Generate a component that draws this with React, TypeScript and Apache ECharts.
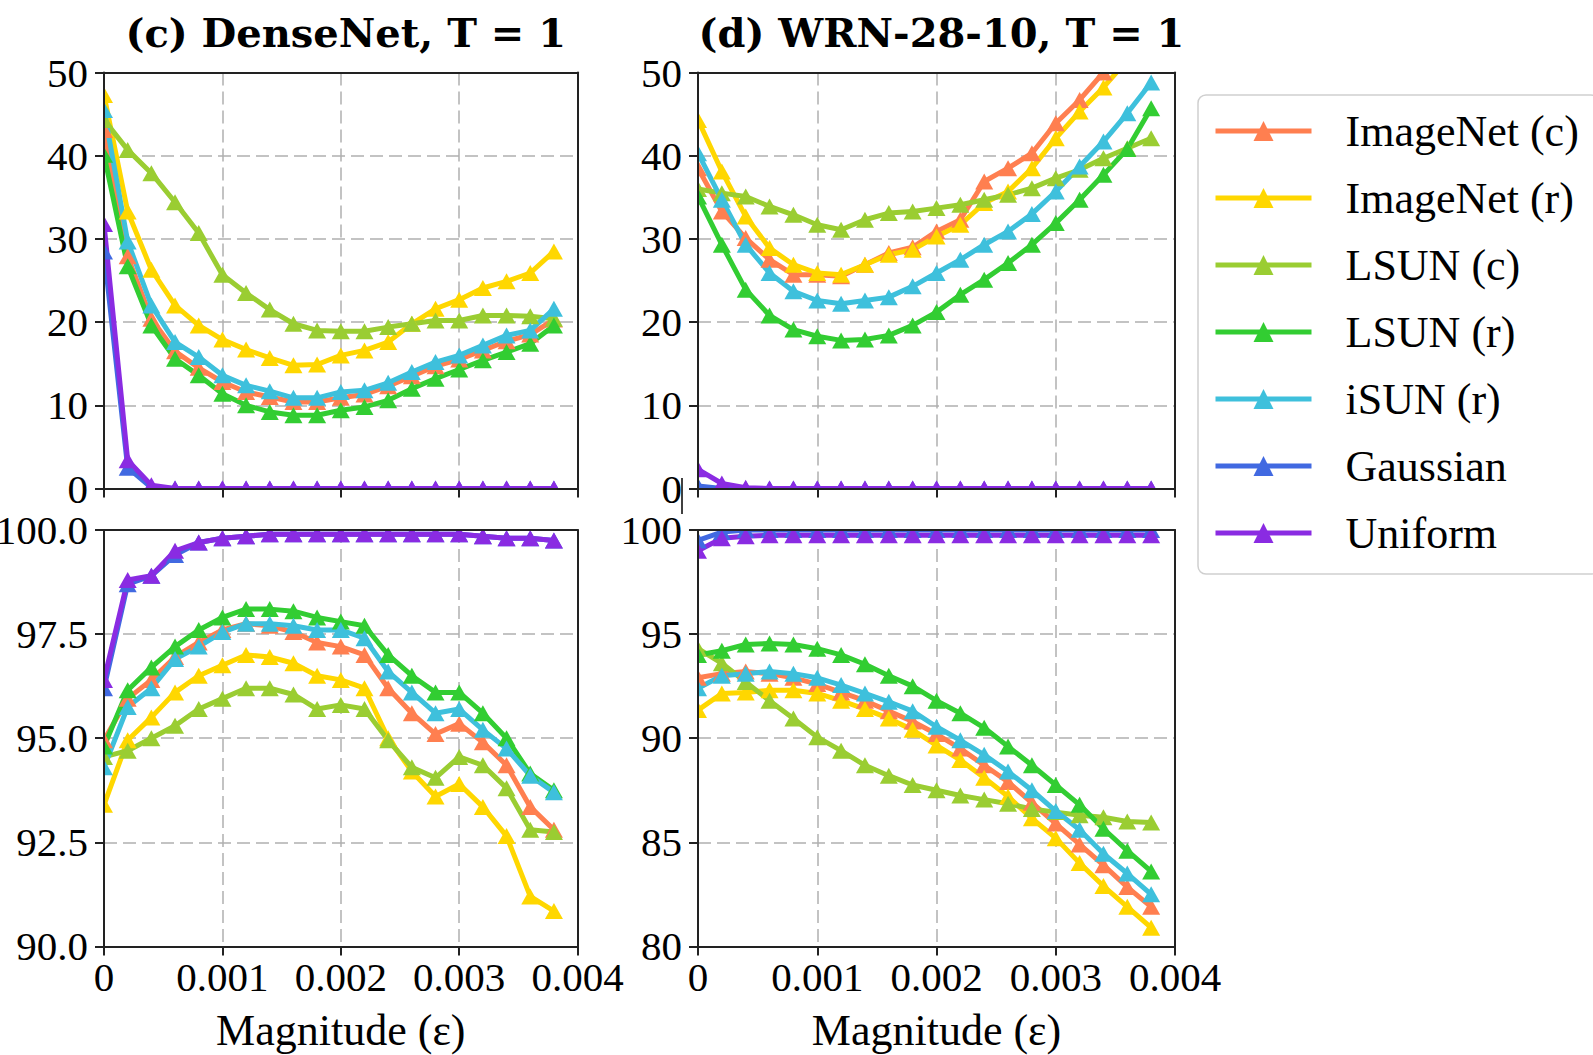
import React, { useEffect, useRef } from 'react';
import * as echarts from 'echarts';

// ---------------- data ----------------
const MAGNITUDES = [0, 0.0002, 0.0004, 0.0006, 0.0008, 0.001, 0.0012, 0.0014, 0.0016, 0.0018, 0.002, 0.0022, 0.0024, 0.0026, 0.0028, 0.003, 0.0032, 0.0034, 0.0036, 0.0038];

const SERIES_NAMES = ['ImageNet (c)', 'ImageNet (r)', 'LSUN (c)', 'LSUN (r)', 'iSUN (r)', 'Gaussian', 'Uniform'];
const SERIES_COLORS = ['#FF7F50', '#FFD700', '#9ACD32', '#32CD32', '#3EC0DC', '#4169E1', '#8A2BE2'];

const PANEL_TITLES = ['(c) DenseNet, T = 1', '(d) WRN-28-10, T = 1'];
const X_AXIS_NAME = 'Magnitude (ε)';

// DenseNet, top panel
const DN_TOP_IMAGENET_C = [43.1, 27.9, 20.4, 16.5, 14.5, 12.8, 11.6, 11.0, 10.4, 10.4, 10.9, 11.3, 12.3, 13.5, 14.7, 15.5, 16.6, 17.7, 18.5, 20.3];
const DN_TOP_IMAGENET_R = [47.3, 33.3, 26.3, 22.0, 19.6, 17.9, 16.7, 15.7, 14.8, 14.9, 16.0, 16.6, 17.6, 19.8, 21.6, 22.7, 24.1, 24.9, 25.9, 28.5];
const DN_TOP_LSUN_C = [44.3, 40.7, 37.9, 34.4, 30.7, 25.7, 23.5, 21.5, 19.8, 19.0, 18.9, 18.9, 19.4, 19.8, 20.2, 20.2, 20.8, 20.8, 20.7, 20.4];
const DN_TOP_LSUN_R = [40.1, 26.7, 19.6, 15.6, 13.6, 11.4, 10.0, 9.2, 8.8, 8.8, 9.4, 9.8, 10.6, 12.0, 13.2, 14.3, 15.4, 16.4, 17.4, 19.6];
const DN_TOP_ISUN_R = [45.5, 29.7, 22.0, 17.6, 15.8, 13.6, 12.4, 11.7, 10.9, 10.9, 11.6, 11.8, 12.7, 14.0, 15.2, 16.0, 17.2, 18.4, 19.0, 21.6];
const DN_TOP_GAUSSIAN = [28.5, 2.5, 0.1, 0, 0, 0, 0, 0, 0, 0, 0, 0, 0, 0, 0, 0, 0, 0, 0, 0];
const DN_TOP_UNIFORM = [31.8, 3.4, 0.4, 0, 0, 0, 0, 0, 0, 0, 0, 0, 0, 0, 0, 0, 0, 0, 0, 0];

// WRN-28-10, top panel
const WRN_TOP_IMAGENET_C = [38.5, 33.3, 30.1, 27.5, 25.7, 25.7, 25.5, 26.9, 28.3, 29.0, 30.9, 32.3, 36.9, 38.5, 40.3, 43.9, 46.7, 50.0, 53.0, 56.0];
const WRN_TOP_IMAGENET_R = [44.3, 38.1, 32.7, 28.9, 26.9, 25.9, 25.7, 26.9, 28.1, 28.7, 30.3, 31.7, 34.3, 35.7, 38.5, 42.1, 45.3, 48.2, 51.5, 54.5];
const WRN_TOP_LSUN_C = [36.0, 35.5, 35.1, 33.9, 32.9, 31.7, 31.1, 32.3, 33.1, 33.3, 33.7, 34.1, 34.7, 35.3, 36.1, 37.3, 38.3, 39.7, 40.9, 42.1];
const WRN_TOP_LSUN_R = [35.1, 29.3, 23.9, 20.8, 19.1, 18.3, 17.8, 17.9, 18.4, 19.6, 21.2, 23.3, 25.1, 27.1, 29.3, 31.9, 34.7, 37.7, 40.8, 45.7];
const WRN_TOP_ISUN_R = [40.3, 34.7, 29.3, 25.9, 23.7, 22.6, 22.2, 22.6, 23.0, 24.3, 25.9, 27.5, 29.3, 30.9, 33.0, 35.7, 38.7, 41.7, 45.1, 48.8];
const WRN_TOP_GAUSSIAN = [0.3, 0, 0, 0, 0, 0, 0, 0, 0, 0, 0, 0, 0, 0, 0, 0, 0, 0, 0, 0];
const WRN_TOP_UNIFORM = [2.3, 0.6, 0.1, 0, 0, 0, 0, 0, 0, 0, 0, 0, 0, 0, 0, 0, 0, 0, 0, 0];

// DenseNet, bottom panel
const DN_BOT_IMAGENET_C = [94.95, 95.95, 96.4, 96.95, 97.3, 97.6, 97.75, 97.7, 97.55, 97.3, 97.2, 97.0, 96.2, 95.6, 95.1, 95.35, 94.9, 94.35, 93.35, 92.8];
const DN_BOT_IMAGENET_R = [93.4, 94.95, 95.5, 96.1, 96.5, 96.75, 97.0, 96.95, 96.8, 96.5, 96.4, 96.2, 95.0, 94.2, 93.6, 93.9, 93.35, 92.65, 91.2, 90.85];
const DN_BOT_LSUN_C = [94.55, 94.7, 95.0, 95.3, 95.7, 95.95, 96.2, 96.2, 96.05, 95.7, 95.8, 95.7, 94.95, 94.3, 94.05, 94.55, 94.35, 93.8, 92.8, 92.75];
const DN_BOT_LSUN_R = [94.8, 96.15, 96.7, 97.2, 97.6, 97.9, 98.1, 98.1, 98.05, 97.9, 97.8, 97.7, 97.0, 96.5, 96.1, 96.1, 95.6, 95.0, 94.15, 93.75];
const DN_BOT_ISUN_R = [94.3, 95.75, 96.2, 96.9, 97.2, 97.55, 97.75, 97.75, 97.7, 97.6, 97.6, 97.4, 96.6, 96.1, 95.6, 95.7, 95.2, 94.75, 94.1, 93.7];
const DN_BOT_GAUSSIAN = [96.2, 98.7, 98.9, 99.4, 99.7, 99.8, 99.85, 99.9, 99.9, 99.9, 99.9, 99.9, 99.9, 99.9, 99.9, 99.9, 99.85, 99.8, 99.8, 99.75];
const DN_BOT_UNIFORM = [96.4, 98.8, 98.9, 99.5, 99.7, 99.8, 99.85, 99.9, 99.9, 99.9, 99.9, 99.9, 99.9, 99.9, 99.9, 99.9, 99.85, 99.8, 99.8, 99.75];

// WRN-28-10, bottom panel
const WRN_BOT_IMAGENET_C = [92.9, 93.1, 93.2, 93.1, 92.9, 92.6, 92.2, 91.8, 91.3, 90.8, 90.2, 89.5, 88.7, 87.9, 86.9, 85.9, 84.9, 83.9, 82.85, 81.9];
const WRN_BOT_IMAGENET_R = [91.35, 92.15, 92.2, 92.3, 92.3, 92.15, 91.8, 91.4, 90.95, 90.4, 89.65, 88.95, 88.1, 87.2, 86.15, 85.2, 84.0, 82.9, 81.9, 80.9];
const WRN_BOT_LSUN_C = [94.3, 93.6, 92.7, 91.8, 90.95, 90.05, 89.4, 88.7, 88.2, 87.75, 87.5, 87.25, 87.05, 86.85, 86.6, 86.45, 86.3, 86.2, 86.0, 85.95];
const WRN_BOT_LSUN_R = [94.0, 94.2, 94.5, 94.55, 94.5, 94.3, 94.0, 93.55, 93.0, 92.5, 91.8, 91.2, 90.5, 89.6, 88.7, 87.75, 86.8, 85.65, 84.6, 83.6];
const WRN_BOT_ISUN_R = [92.4, 93.0, 93.1, 93.2, 93.1, 92.9, 92.55, 92.15, 91.75, 91.3, 90.55, 89.9, 89.2, 88.4, 87.5, 86.5, 85.6, 84.45, 83.5, 82.5];
const WRN_BOT_GAUSSIAN = [99.5, 99.9, 100, 100, 100, 100, 100, 100, 100, 100, 100, 100, 100, 100, 100, 100, 100, 100, 100, 100];
const WRN_BOT_UNIFORM = [99.0, 99.6, 99.7, 99.75, 99.75, 99.75, 99.75, 99.75, 99.75, 99.75, 99.75, 99.75, 99.75, 99.75, 99.75, 99.75, 99.75, 99.75, 99.75, 99.75];

const PANEL_DATA = [
  [DN_TOP_IMAGENET_C, DN_TOP_IMAGENET_R, DN_TOP_LSUN_C, DN_TOP_LSUN_R, DN_TOP_ISUN_R, DN_TOP_GAUSSIAN, DN_TOP_UNIFORM],
  [WRN_TOP_IMAGENET_C, WRN_TOP_IMAGENET_R, WRN_TOP_LSUN_C, WRN_TOP_LSUN_R, WRN_TOP_ISUN_R, WRN_TOP_GAUSSIAN, WRN_TOP_UNIFORM],
  [DN_BOT_IMAGENET_C, DN_BOT_IMAGENET_R, DN_BOT_LSUN_C, DN_BOT_LSUN_R, DN_BOT_ISUN_R, DN_BOT_GAUSSIAN, DN_BOT_UNIFORM],
  [WRN_BOT_IMAGENET_C, WRN_BOT_IMAGENET_R, WRN_BOT_LSUN_C, WRN_BOT_LSUN_R, WRN_BOT_ISUN_R, WRN_BOT_GAUSSIAN, WRN_BOT_UNIFORM],
];

// y axis ranges per panel: [min, max, interval, decimals]
const Y_RANGES = [
  [0, 50, 10, 0],
  [0, 50, 10, 0],
  [90, 100, 2.5, 1],
  [80, 100, 5, 0],
];
const X_RANGE = [0, 0.004, 0.001];

// ---------------- layout ----------------
const W = 1593;
const H = 1055;
const FONT = "'Liberation Serif', 'Times New Roman', serif";
const TITLE_FONT = "'DejaVu Serif', serif";
const COLS = [
  { left: 104, width: 473.6 },
  { left: 698, width: 477 },
];
const ROWS = [
  { top: 72.5, height: 416 },
  { top: 530, height: 416.4 },
];
const GRIDS = [
  { ...COLS[0], ...ROWS[0] },
  { ...COLS[1], ...ROWS[0] },
  { ...COLS[0], ...ROWS[1] },
  { ...COLS[1], ...ROWS[1] },
];
const SPINE = '#222222';

function buildOption() {
  const xAxis: any[] = [];
  const yAxis: any[] = [];
  const series: any[] = [];
  const elements: any[] = [];

  GRIDS.forEach((g, gi) => {
    const isBottom = gi >= 2;
    const [ymin, ymax, yint, dec] = Y_RANGES[gi];
    const xBase = { type: 'value', gridIndex: gi, min: X_RANGE[0], max: X_RANGE[1], interval: X_RANGE[2] };
    const yBase = { type: 'value', gridIndex: gi, min: ymin, max: ymax, interval: yint };
    const lineStyle = { color: SPINE, width: 2 };
    xAxis.push(
      {
        ...xBase, position: 'bottom', z: 0,
        axisLine: { show: false }, axisTick: { show: false }, axisLabel: { show: false },
        splitLine: { show: true, lineStyle: { color: '#b0b0b0', width: 1.5, type: [13, 6] } },
      },
      {
        ...xBase, position: 'bottom', z: 10,
        axisLine: { show: true, onZero: false, lineStyle },
        axisTick: { show: true, inside: false, length: 9, lineStyle },
        axisLabel: {
          show: isBottom, margin: 10, color: '#000', fontFamily: FONT, fontSize: 41,
          formatter: (v: number) => (v === 0 ? '0' : v.toFixed(3)),
        },
        splitLine: { show: false },
        name: isBottom ? X_AXIS_NAME : '',
        nameLocation: 'middle', nameGap: 62,
        nameTextStyle: { color: '#000', fontFamily: FONT, fontSize: 44 },
      },
      {
        ...xBase, position: 'top', z: 10,
        axisLine: { show: true, onZero: false, lineStyle },
        axisTick: { show: false }, axisLabel: { show: false }, splitLine: { show: false },
      }
    );
    yAxis.push(
      {
        ...yBase, position: 'left', z: 0,
        axisLine: { show: false }, axisTick: { show: false }, axisLabel: { show: false },
        splitLine: { show: true, lineStyle: { color: '#b0b0b0', width: 1.5, type: [13, 6] } },
      },
      {
        ...yBase, position: 'left', z: 10,
        axisLine: { show: true, onZero: false, lineStyle },
        axisTick: { show: true, inside: false, length: 9, lineStyle },
        axisLabel: {
          show: true, margin: 16, color: '#000', fontFamily: FONT, fontSize: 41,
          formatter: (v: number) => v.toFixed(dec),
        },
        splitLine: { show: false },
      },
      {
        ...yBase, position: 'right', z: 10,
        axisLine: { show: true, onZero: false, lineStyle },
        axisTick: { show: false }, axisLabel: { show: false }, splitLine: { show: false },
      }
    );

    PANEL_DATA[gi].forEach((vals, si) => {
      series.push({
        type: 'line',
        name: SERIES_NAMES[si],
        xAxisIndex: gi * 3,
        yAxisIndex: gi * 3,
        data: MAGNITUDES.map((x, i) => [x, vals[i]]),
        symbol: 'triangle',
        symbolSize: [18, 16],
        showSymbol: true,
        clip: true,
        z: 2,
        lineStyle: { color: SERIES_COLORS[si], width: 5 },
        itemStyle: { color: SERIES_COLORS[si] },
        emphasis: { disabled: true },
      });
    });

    // white masks just outside the plot frame (markers are clipped there)
    const m = 12;
    const fill = { fill: '#ffffff' };
    elements.push(
      { type: 'rect', z: 5, silent: true, shape: { x: g.left - m, y: g.top - m, width: g.width + 2 * m, height: m }, style: fill },
      { type: 'rect', z: 5, silent: true, shape: { x: g.left - m, y: g.top + g.height, width: g.width + 2 * m, height: m }, style: fill },
      { type: 'rect', z: 5, silent: true, shape: { x: g.left - m, y: g.top, width: m, height: g.height }, style: fill },
      { type: 'rect', z: 5, silent: true, shape: { x: g.left + g.width, y: g.top, width: m, height: g.height }, style: fill }
    );
  });

  // small stray vertical rule next to the right panel's "0" label
  elements.push({
    type: 'line', z: 10, silent: true,
    shape: { x1: 682, y1: 478, x2: 682, y2: 514 },
    style: { stroke: '#000', lineWidth: 1.5 },
  });

  return {
    animation: false,
    backgroundColor: '#ffffff',
    title: PANEL_TITLES.map((t, i) => ({
      text: t,
      left: COLS[i].left + COLS[i].width / 2,
      top: 7,
      textAlign: 'center',
      z: 12,
      textStyle: { color: '#000', fontFamily: TITLE_FONT, fontSize: 40, fontWeight: 'bold' },
    })),
    legend: {
      orient: 'vertical',
      left: 1198,
      top: 95,
      padding: [14, 20, 19, 15],
      itemWidth: 96,
      itemHeight: 25,
      itemGap: 23,
      selectedMode: false,
      data: SERIES_NAMES,
      lineStyle: { width: 5 },
      textStyle: { color: '#000', fontFamily: FONT, fontSize: 44, lineHeight: 42, padding: [0, 0, 0, 29] },
      borderColor: '#cfcfcf',
      borderWidth: 1.5,
      borderRadius: 8,
      backgroundColor: '#ffffff',
    },
    grid: GRIDS.map((g) => ({
      left: g.left, top: g.top, width: g.width, height: g.height,
      show: false, containLabel: false, outerBoundsMode: 'none',
    })),
    xAxis,
    yAxis,
    series,
    graphic: { elements },
  };
}

export default function App() {
  const ref = useRef<HTMLDivElement>(null);
  useEffect(() => {
    if (!ref.current) return;
    const chart = echarts.init(ref.current, undefined, { renderer: 'svg' });
    chart.setOption(buildOption() as any);
    return () => chart.dispose();
  }, []);
  return (
    <div
      ref={ref}
      style={{ position: 'fixed', left: 0, top: 0, width: W, height: H, background: '#fff' }}
    />
  );
}
